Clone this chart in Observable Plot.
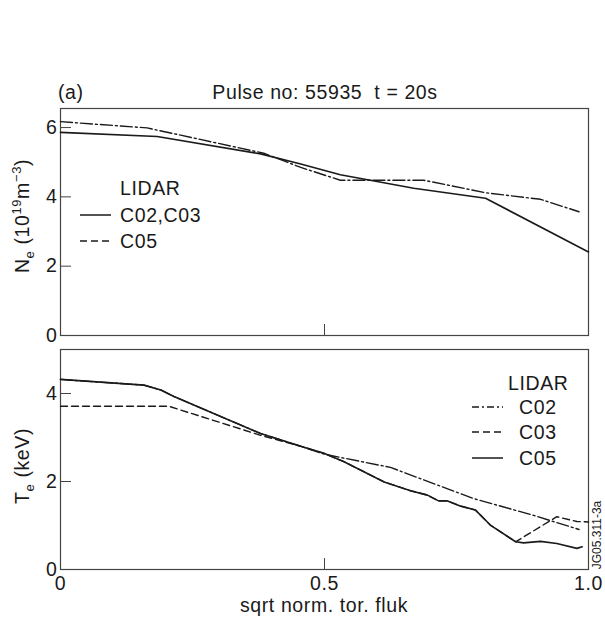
<!DOCTYPE html>
<html><head><meta charset="utf-8">
<script src="https://cdn.jsdelivr.net/npm/d3@7"></script>
<script src="https://cdn.jsdelivr.net/npm/@observablehq/plot@0.6"></script>
<style>
body{margin:0;background:#fff;}
#chart{position:relative;width:605px;height:619px;font-family:"Liberation Sans",Arial,sans-serif;}
#chart svg{position:absolute;left:0;overflow:visible;}
</style></head><body><div id="chart"></div>
<script>
// ---- data ----
const xTicks = [0, 0.5, 1.0];
const neTicks = [0, 2, 4, 6];
const teTicks = [0, 2, 4];

// Top panel: Ne (10^19 m^-3)
const neSolidX = [0, 0.183, 0.379, 0.455, 0.53, 0.669, 0.805, 1.0];
const neSolidY = [5.86, 5.74, 5.24, 4.95, 4.64, 4.25, 3.96, 2.41];
const neDashDotX = [0, 0.164, 0.385, 0.455, 0.53, 0.688, 0.805, 0.909, 0.982];
const neDashDotY = [6.17, 5.99, 5.26, 4.85, 4.48, 4.48, 4.12, 3.93, 3.57];

// Bottom panel: Te (keV)
const teC05X = [0, 0.158, 0.19, 0.215, 0.379, 0.455, 0.499, 0.537, 0.613, 0.663, 0.695, 0.716, 0.732, 0.758, 0.786, 0.814, 0.862, 0.877, 0.909, 0.94, 0.978, 0.988];
const teC05Y = [4.32, 4.19, 4.08, 3.93, 3.09, 2.80, 2.64, 2.45, 1.99, 1.79, 1.69, 1.56, 1.56, 1.44, 1.35, 1.01, 0.63, 0.605, 0.64, 0.59, 0.48, 0.515];
const teC03X = [0, 0.205, 0.379, 0.455, 0.499, 0.537, 0.613, 0.663, 0.695, 0.716, 0.732, 0.758, 0.786, 0.814, 0.862, 0.94, 0.978, 1.0];
const teC03Y = [3.71, 3.71, 3.05, 2.80, 2.64, 2.45, 1.99, 1.79, 1.69, 1.56, 1.56, 1.44, 1.35, 1.01, 0.63, 1.20, 1.09, 1.08];
const teC02X = [0, 0.158, 0.19, 0.215, 0.379, 0.455, 0.5, 0.625, 0.783, 0.896, 0.982];
const teC02Y = [4.32, 4.19, 4.08, 3.93, 3.09, 2.80, 2.62, 2.32, 1.61, 1.23, 0.91];

const toRows = (xs, ys) => xs.map((x, i) => ({x, y: ys[i]}));

const FONT = '"Liberation Sans", Arial, sans-serif';
const FS = 19.5, FS_SUB = 13, LS = "0.6px";
const INK = "#1a1a1a";
const FRAME = "#444";
const DASH = "7,4";
const DASHDOT = "12,3,2,3";
const W = 605, ML = 60, MR = 17;

const chart = document.getElementById("chart");
const plotStyle = {fontFamily: FONT, fontSize: FS + "px", letterSpacing: LS, color: INK, background: "transparent"};

const topPlot = Plot.plot({
  width: W, height: 345,
  marginLeft: ML, marginRight: MR, marginTop: 108, marginBottom: 10,
  style: plotStyle,
  x: {domain: [0, 1]},
  y: {domain: [0, 6.55]},
  marks: [
    Plot.frame({stroke: FRAME, strokeWidth: 1.2}),
    Plot.axisY(neTicks, {tickSize: -11, tickPadding: 14, fontSize: FS, label: null, stroke: FRAME}),
    Plot.axisX([0.5], {tickSize: -11, tickFormat: () => "", label: null, stroke: FRAME}),
    Plot.line(toRows(neDashDotX, neDashDotY), {x: "x", y: "y", stroke: INK, strokeWidth: 1.4, strokeDasharray: DASHDOT}),
    Plot.line(toRows(neSolidX, neSolidY), {x: "x", y: "y", stroke: INK, strokeWidth: 1.6})
  ]
});
topPlot.style.top = "0px";
chart.appendChild(topPlot);

const bottomPlot = Plot.plot({
  width: W, height: 274,
  marginLeft: ML, marginRight: MR, marginTop: 4, marginBottom: 50,
  style: plotStyle,
  x: {domain: [0, 1]},
  y: {domain: [0, 5]},
  marks: [
    Plot.frame({stroke: FRAME, strokeWidth: 1.2}),
    Plot.axisY(teTicks, {tickSize: -11, tickPadding: 14, fontSize: FS, label: null, stroke: FRAME}),
    Plot.axisX(xTicks, {tickSize: -11, tickPadding: 18, fontSize: FS, label: null, stroke: FRAME,
      tickFormat: d => d === 0 ? "0" : d.toFixed(1)}),
    Plot.line(toRows(teC02X, teC02Y), {x: "x", y: "y", stroke: INK, strokeWidth: 1.4, strokeDasharray: DASHDOT}),
    Plot.line(toRows(teC03X, teC03Y), {x: "x", y: "y", stroke: INK, strokeWidth: 1.4, strokeDasharray: DASH}),
    Plot.line(toRows(teC05X, teC05Y), {x: "x", y: "y", stroke: INK, strokeWidth: 1.6})
  ]
});
bottomPlot.style.top = "345px";
chart.appendChild(bottomPlot);

// ---- annotations overlay (titles, axis labels, legends) ----
const ov = d3.select(chart).append("svg")
  .attr("width", W).attr("height", 619)
  .style("top", "0px").style("pointer-events", "none")
  .attr("font-family", FONT).attr("fill", INK).attr("letter-spacing", LS);

ov.append("text").attr("x", 58).attr("y", 99).attr("font-size", FS).text("(a)");
ov.append("text").attr("x", 325).attr("y", 99).attr("font-size", FS)
  .attr("text-anchor", "middle").style("white-space", "pre").text("Pulse no: 55935  t = 20s");

// y label top
const yl1 = ov.append("text").attr("transform", "translate(29,216) rotate(-90)")
  .attr("text-anchor", "middle").attr("font-size", FS);
yl1.append("tspan").text("N");
yl1.append("tspan").attr("font-size", FS_SUB).attr("dy", 5).text("e");
yl1.append("tspan").attr("dy", -5).text(" (10");
yl1.append("tspan").attr("font-size", FS_SUB).attr("dy", -8).text("19");
yl1.append("tspan").attr("dy", 8).text("m");
yl1.append("tspan").attr("font-size", FS_SUB).attr("dy", -8).text("\u22123");
yl1.append("tspan").attr("dy", 8).text(")");

// y label bottom
const yl2 = ov.append("text").attr("transform", "translate(29,466) rotate(-90)")
  .attr("text-anchor", "middle").attr("font-size", FS);
yl2.append("tspan").text("T");
yl2.append("tspan").attr("font-size", FS_SUB).attr("dy", 5).text("e");
yl2.append("tspan").attr("dy", -5).text(" (keV)");

// x label
ov.append("text").attr("x", 324).attr("y", 612).attr("font-size", FS)
  .attr("text-anchor", "middle").text("sqrt norm. tor. fluk");

// side code
ov.append("text").attr("transform", "translate(601,535) rotate(-90)")
  .attr("text-anchor", "middle").attr("font-size", 12).attr("letter-spacing", "0px").text("JG05.311-3a");

// top legend
ov.append("text").attr("x", 120).attr("y", 188).attr("dy", "0.35em").attr("font-size", FS).text("LIDAR");
[["C02,C03", null, 215], ["C05", DASH, 241]].forEach(([lab, dash, y]) => {
  ov.append("line").attr("x1", 80).attr("x2", 111).attr("y1", y).attr("y2", y)
    .attr("stroke", INK).attr("stroke-width", 1.5).attr("stroke-dasharray", dash);
  ov.append("text").attr("x", 120).attr("y", y).attr("dy", "0.35em").attr("font-size", FS).text(lab);
});

// bottom legend
ov.append("text").attr("x", 508).attr("y", 383).attr("dy", "0.35em").attr("font-size", FS).text("LIDAR");
[["C02", "7,3,2,3", 407], ["C03", DASH, 432], ["C05", null, 458]].forEach(([lab, dash, y]) => {
  ov.append("line").attr("x1", 472).attr("x2", 503).attr("y1", y).attr("y2", y)
    .attr("stroke", INK).attr("stroke-width", 1.5).attr("stroke-dasharray", dash);
  ov.append("text").attr("x", 519).attr("y", y).attr("dy", "0.35em").attr("font-size", FS).text(lab);
});
</script>
</body></html>
